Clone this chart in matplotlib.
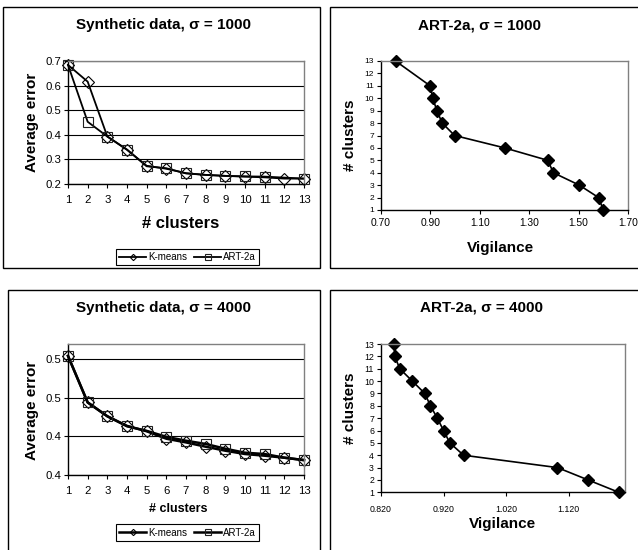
import numpy as np
import matplotlib.pyplot as plt
from matplotlib.patches import Rectangle
from matplotlib.ticker import FormatStrFormatter

plt.rcParams['font.family'] = ['Liberation Sans', 'DejaVu Sans']

W, H = 638, 550

# --- data ---
clusters = list(range(1, 14))

kmeans_1000 = [0.684, 0.616, 0.393, 0.339, 0.274, 0.262, 0.244, 0.237, 0.233, 0.230, 0.227, 0.222, 0.222]
art_1000_x = [1, 2, 3, 4, 5, 6, 7, 8, 9, 10, 11, 13]
art_1000 = [0.684, 0.453, 0.393, 0.340, 0.272, 0.264, 0.243, 0.237, 0.233, 0.231, 0.230, 0.222]

kmeans_4000 = [0.5345, 0.474, 0.456, 0.4435, 0.4365, 0.4268, 0.422, 0.4164, 0.4112, 0.4069, 0.4047, 0.4021, 0.399]
art_4000 = [0.5345, 0.474, 0.456, 0.443, 0.437, 0.4293, 0.4242, 0.420, 0.4138, 0.4086, 0.4069, 0.4021, 0.399]

vig_1000 = [0.759, 0.899, 0.910, 0.926, 0.948, 0.998, 1.201, 1.375, 1.398, 1.503, 1.581, 1.600]
ncl_1000 = [13, 11, 10, 9, 8, 7, 6, 5, 4, 3, 2, 1]

vig_4000 = [0.841, 0.842, 0.850, 0.870, 0.890, 0.899, 0.910, 0.920, 0.930, 0.952, 1.102, 1.151, 1.200]
ncl_4000 = [13, 12, 11, 10, 9, 8, 7, 6, 5, 4, 3, 2, 1]

vig_ticks_1000 = [0.70, 0.90, 1.10, 1.30, 1.50, 1.70]
vig_ticks_4000 = [0.82, 0.92, 1.02, 1.12]
err_ticks_1000 = [0.2, 0.3, 0.4, 0.5, 0.6, 0.7]
err_ticks_4000 = [0.38, 0.43, 0.48, 0.53]


def px_axes(fig, left, top, right, bottom):
    return fig.add_axes([left / W, 1 - bottom / H, (right - left) / W, (bottom - top) / H])


def px_box(fig, left, top, right, bottom):
    fig.patches.append(Rectangle((left / W, 1 - bottom / H), (right - left) / W, (bottom - top) / H,
                                 transform=fig.transFigure, fill=False, edgecolor='black', lw=1.0))


def fig_text(fig, x, y, s, **kw):
    fig.text(x / W, 1 - y / H, s, ha='center', va='center', **kw)


def style_axes(ax):
    for side in ['top', 'right']:
        ax.spines[side].set_color('#808080')
        ax.spines[side].set_linewidth(1.0)
    for side in ['left', 'bottom']:
        ax.spines[side].set_color('black')
        ax.spines[side].set_linewidth(1.0)
    ax.tick_params(direction='out', length=3, width=0.8, pad=2, colors='black')


def error_panel(fig, ax, kmeans, art_x, art, yticks, ylim, tick_size, lw, legend_y):
    ax.plot(clusters, kmeans, color='black', lw=lw, marker='D', markersize=5.8,
            markerfacecolor='none', markeredgecolor='black', markeredgewidth=0.8, label='K-means')
    ax.plot(art_x, art, color='black', lw=lw, marker='s', markersize=7.4,
            markerfacecolor='none', markeredgecolor='#202020', markeredgewidth=0.8, label='ART-2a')
    ax.set_xlim(1, 13)
    ax.set_ylim(*ylim)
    ax.set_xticks(clusters)
    ax.set_yticks(yticks)
    ax.yaxis.set_major_formatter(FormatStrFormatter('%.1f'))
    for t in yticks:
        ax.axhline(t, color='black', lw=0.8, zorder=0)
    style_axes(ax)
    ax.tick_params(labelsize=tick_size)
    ax.tick_params(axis='x', pad=5)
    for m in ax.lines[:2]:
        m.set_clip_on(False)
    h, l = ax.get_legend_handles_labels()
    leg = fig.legend(h, l, loc='center', bbox_to_anchor=(187.5 / W, 1 - legend_y / H), ncol=2,
                     fontsize=7, frameon=True, fancybox=False, edgecolor='black', framealpha=1,
                     markerscale=0.55, handlelength=2.8, handletextpad=0.2, columnspacing=0.7,
                     borderpad=0.35, borderaxespad=0)
    leg.get_frame().set_linewidth(0.8)


def vigilance_panel(ax, vig, ncl, xticks, xlim, fmt, xsize, ysize, xpad):
    ax.plot(vig, ncl, color='black', lw=1.2, marker='D', markersize=6.3,
            markerfacecolor='black', markeredgecolor='black', clip_on=False)
    ax.set_xlim(*xlim)
    ax.set_ylim(1, 13)
    ax.set_xticks(xticks)
    ax.set_yticks(range(1, 14))
    ax.xaxis.set_major_formatter(FormatStrFormatter(fmt))
    style_axes(ax)
    ax.tick_params(axis='x', labelsize=xsize, pad=xpad)
    ax.tick_params(axis='y', labelsize=ysize)


fig = plt.figure(figsize=(W / 100, H / 100), dpi=100)

px_box(fig, 3, 7, 320, 268)
px_box(fig, 330, 7, 645, 268)
px_box(fig, 8, 290, 320, 560)
px_box(fig, 330, 290, 645, 560)

# top left
ax1 = px_axes(fig, 68, 61, 304, 184)
error_panel(fig, ax1, kmeans_1000, art_1000_x, art_1000, err_ticks_1000, (0.2, 0.7), 8.2, 1.3, 257)
fig_text(fig, 163, 25, 'Synthetic data, σ = 1000', fontsize=11, fontweight='bold')
fig_text(fig, 181, 223, '# clusters', fontsize=12, fontweight='bold')
fig_text(fig, 32, 122, 'Average error', fontsize=11, fontweight='bold', rotation=90)

# top right
ax2 = px_axes(fig, 381, 61, 628, 210)
vigilance_panel(ax2, vig_1000, ncl_1000, vig_ticks_1000, (0.70, 1.70), '%.2f', 7.4, 6, 3)
fig_text(fig, 480, 25, 'ART-2a, σ = 1000', fontsize=11, fontweight='bold')
fig_text(fig, 500, 248, 'Vigilance', fontsize=11, fontweight='bold')
fig_text(fig, 350, 135, '# clusters', fontsize=11, fontweight='bold', rotation=90)

# bottom left
ax3 = px_axes(fig, 68, 344, 304, 474.7)
error_panel(fig, ax3, kmeans_4000, clusters, art_4000, err_ticks_4000, (0.38, 0.55), 8.2, 1.8, 532.5)
fig_text(fig, 163, 308, 'Synthetic data, σ = 4000', fontsize=11, fontweight='bold')
fig_text(fig, 178, 509, '# clusters', fontsize=9, fontweight='bold')
fig_text(fig, 32, 410, 'Average error', fontsize=11, fontweight='bold', rotation=90)

# bottom right
ax4 = px_axes(fig, 381, 344, 625, 492.3)
vigilance_panel(ax4, vig_4000, ncl_4000, vig_ticks_4000, (0.82, 1.21), '%.3f', 6.3, 6.3, 6)
fig_text(fig, 481, 308, 'ART-2a, σ = 4000', fontsize=11, fontweight='bold')
fig_text(fig, 502, 524, 'Vigilance', fontsize=11, fontweight='bold')
fig_text(fig, 350, 408, '# clusters', fontsize=11, fontweight='bold', rotation=90)

fig.savefig('out.png', dpi=100)
